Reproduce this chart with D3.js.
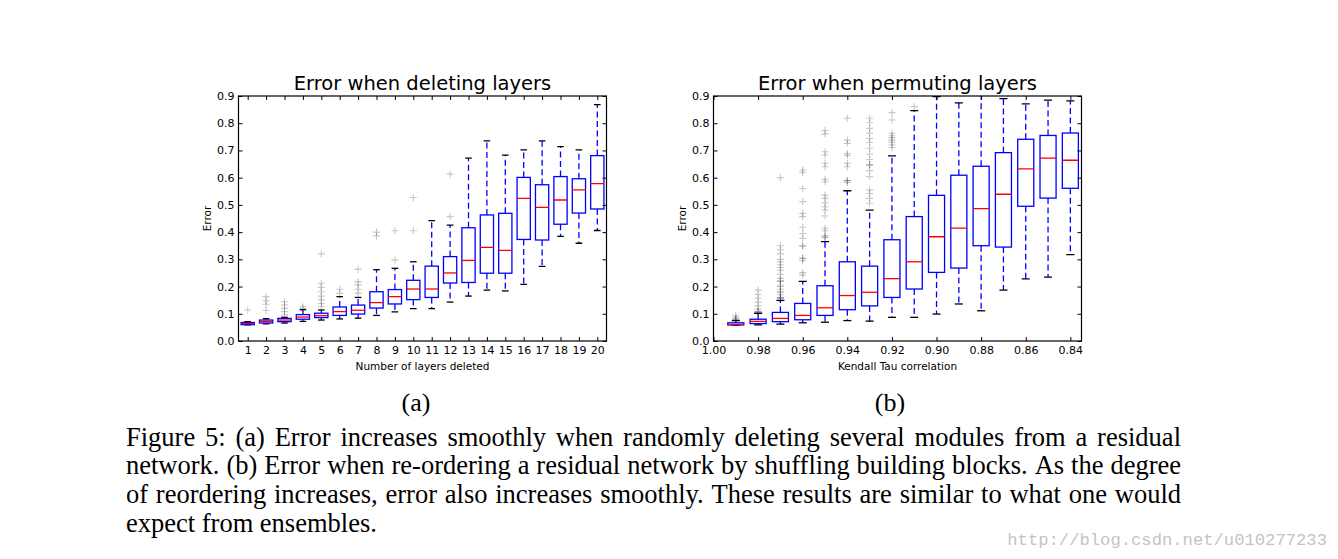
<!DOCTYPE html>
<html>
<head>
<meta charset="utf-8">
<script src="https://cdn.jsdelivr.net/npm/d3@7"></script>
<style>
html,body{margin:0;padding:0;background:#fff;}
svg{display:block;}
</style>
</head>
<body>
<svg id="fig" width="1338" height="559"></svg>
<script>
// ---------- DATA ----------
// (a) Error when deleting layers
const delCats = [1,2,3,4,5,6,7,8,9,10,11,12,13,14,15,16,17,18,19,20];
const delLo  = [0.059,0.063,0.066,0.072,0.077,0.081,0.084,0.094,0.107,0.119,0.119,0.143,0.165,0.187,0.184,0.208,0.274,0.384,0.359,0.406];
const delQ1  = [0.060,0.066,0.071,0.080,0.086,0.094,0.099,0.121,0.136,0.152,0.160,0.213,0.215,0.249,0.249,0.373,0.371,0.429,0.470,0.485];
const delMed = [0.064,0.071,0.077,0.088,0.093,0.108,0.113,0.141,0.163,0.191,0.191,0.250,0.296,0.344,0.333,0.524,0.491,0.518,0.555,0.578];
const delQ3  = [0.068,0.077,0.083,0.097,0.102,0.125,0.132,0.181,0.189,0.223,0.275,0.310,0.416,0.463,0.469,0.601,0.574,0.604,0.596,0.681];
const delHi  = [0.071,0.082,0.087,0.115,0.114,0.163,0.160,0.262,0.267,0.291,0.442,0.426,0.672,0.735,0.683,0.702,0.735,0.714,0.702,0.868];
const delFliers = [
  [0.114],
  [0.163,0.148,0.135,0.112],
  [0.144,0.132,0.120,0.108,0.096],
  [0.126,0.120],
  [0.320,0.212,0.197,0.181,0.165,0.151,0.138,0.126],
  [0.190,0.175],
  [0.263,0.218,0.206,0.190,0.175],
  [0.400,0.386],
  [0.405,0.298],
  [0.527,0.405],
  [],
  [0.613,0.457],
  [],[],[],[],[],[],[],[]
];
const delXTicks = [1,2,3,4,5,6,7,8,9,10,11,12,13,14,15,16,17,18,19,20];

// (b) Error when permuting layers
const permCats = [0.99,0.98,0.97,0.96,0.95,0.94,0.93,0.92,0.91,0.90,0.89,0.88,0.87,0.86,0.85,0.84];
const permLo  = [0.058,0.059,0.062,0.067,0.069,0.075,0.073,0.087,0.087,0.099,0.136,0.111,0.187,0.228,0.235,0.317];
const permQ1  = [0.059,0.064,0.071,0.078,0.094,0.115,0.129,0.160,0.191,0.252,0.268,0.350,0.345,0.495,0.525,0.561];
const permMed = [0.061,0.072,0.083,0.094,0.122,0.167,0.179,0.229,0.291,0.383,0.415,0.486,0.539,0.632,0.672,0.664];
const permQ3  = [0.067,0.080,0.105,0.138,0.203,0.291,0.275,0.372,0.457,0.535,0.609,0.642,0.692,0.741,0.755,0.764];
const permHi  = [0.075,0.102,0.149,0.219,0.365,0.552,0.481,0.680,0.846,0.898,0.875,0.905,0.890,0.871,0.885,0.882];
const permFliers = [
  [0.093,0.086,0.080,0.077,0.080],
  [0.187,0.171,0.157,0.142,0.129,0.116,0.108,0.108],
  [0.600,0.350,0.335,0.320,0.300,0.290,0.280,0.270,0.260,0.245,0.230,0.220,0.205,0.190,0.180,0.170,0.160,0.155,0.155,0.160,0.180,0.200,0.220],
  [0.628,0.620,0.560,0.512,0.469,0.457,0.418,0.395,0.377,0.349,0.349,0.304,0.304,0.295,0.251,0.242],
  [0.773,0.760,0.695,0.683,0.653,0.640,0.594,0.585,0.536,0.524,0.508,0.493,0.481,0.459,0.414,0.405,0.387,0.381,0.381],
  [0.818,0.738,0.726,0.689,0.682,0.653,0.640,0.589,0.582,0.589],
  [0.818,0.802,0.781,0.763,0.744,0.729,0.708,0.686,0.667,0.647,0.626,0.604,0.555,0.542,0.524,0.506,0.647],
  [0.839,0.812,0.763,0.754,0.747,0.738,0.730,0.720,0.711],
  [0.861],
  [],[],[],[],[],[],[]
];
const permXTicks = [1.00,0.98,0.96,0.94,0.92,0.90,0.88,0.86,0.84];

const yTicks = [0.0,0.1,0.2,0.3,0.4,0.5,0.6,0.7,0.8,0.9];

const titles = ["Error when deleting layers","Error when permuting layers"];
const xLabels = ["Number of layers deleted","Kendall Tau correlation"];
const yLabel = "Error";
const subLabels = ["(a)","(b)"];
const captionLines = [
  "Figure 5: (a) Error increases smoothly when randomly deleting several modules from a residual",
  "network. (b) Error when re-ordering a residual network by shuffling building blocks. As the degree",
  "of reordering increases, error also increases smoothly. These results are similar to what one would",
  "expect from ensembles."
];
const watermark = "http://blog.csdn.net/u010277233";

// ---------- DRAW ----------
const svg = d3.select("#fig");
svg.append("rect").attr("width",1338).attr("height",559).attr("fill","#fff");
const SANS = "DejaVu Sans";

function drawBoxChart(cfg){
  const {left, right, top, bottom, xDomain, cats, lo, q1, med, q3, hi, fliers,
         xTicks, xFmt, boxW, title, xLabel, idx} = cfg;
  const x = d3.scaleLinear().domain(xDomain).range([left, right]);
  const y = d3.scaleLinear().domain([0, 0.9]).range([bottom, top]);
  const g = svg.append("g");
  const clipId = "clip" + idx;
  svg.append("clipPath").attr("id", clipId).append("rect")
    .attr("x", left).attr("y", top).attr("width", right-left).attr("height", bottom-top);
  const plot = g.append("g").attr("clip-path", `url(#${clipId})`);

  const data = cats.map((c,i)=>({c, lo:lo[i], q1:q1[i], med:med[i], q3:q3[i], hi:hi[i], fl:fliers[i]}));
  const halfW = Math.abs(x(boxW) - x(0)) / 2;
  const capW = halfW / 2;

  // fliers
  data.forEach(d=>{
    d.fl.forEach(v=>{
      plot.append("path")
        .attr("d", `M${x(d.c)-3.5},${y(v)}H${x(d.c)+3.5}M${x(d.c)},${y(v)-3.5}V${y(v)+3.5}`)
        .attr("stroke","rgba(0,0,0,0.22)").attr("stroke-width",1.1).attr("fill","none");
    });
  });
  // whiskers (dashed blue)
  const wh = plot.append("g").attr("stroke","#0000ff").attr("stroke-width",1.3)
    .attr("stroke-dasharray","6,3.5").attr("fill","none");
  data.forEach(d=>{
    wh.append("line").attr("x1",x(d.c)).attr("x2",x(d.c)).attr("y1",y(d.q3)).attr("y2",y(d.hi));
    wh.append("line").attr("x1",x(d.c)).attr("x2",x(d.c)).attr("y1",y(d.q1)).attr("y2",y(d.lo));
  });
  // caps
  const caps = plot.append("g").attr("stroke","#000").attr("stroke-width",1.3);
  data.forEach(d=>{
    [d.lo, d.hi].forEach(v=>{
      caps.append("line").attr("x1",x(d.c)-capW).attr("x2",x(d.c)+capW).attr("y1",y(v)).attr("y2",y(v));
    });
  });
  // boxes
  plot.selectAll("rect.box").data(data).join("rect").attr("class","box")
    .attr("x", d=>x(d.c)-halfW).attr("width", halfW*2)
    .attr("y", d=>y(d.q3)).attr("height", d=>y(d.q1)-y(d.q3))
    .attr("fill","none").attr("stroke","#0000ff").attr("stroke-width",1.3);
  // medians
  plot.selectAll("line.med").data(data).join("line").attr("class","med")
    .attr("x1", d=>x(d.c)-halfW).attr("x2", d=>x(d.c)+halfW)
    .attr("y1", d=>y(d.med)).attr("y2", d=>y(d.med))
    .attr("stroke","#ff0000").attr("stroke-width",1.3);

  // axes with inward ticks
  const axB = d3.axisBottom(x).tickValues(xTicks).tickFormat(xFmt).tickSizeInner(-4).tickSizeOuter(0).tickPadding(5);
  const axT = d3.axisTop(x).tickValues(xTicks).tickFormat("").tickSizeInner(-4).tickSizeOuter(0);
  const axL = d3.axisLeft(y).tickValues(yTicks).tickFormat(d3.format(".1f")).tickSizeInner(-4).tickSizeOuter(0).tickPadding(4);
  const axR = d3.axisRight(y).tickValues(yTicks).tickFormat("").tickSizeInner(-4).tickSizeOuter(0);
  const styleAx = sel => {
    sel.selectAll(".domain").remove();
    sel.selectAll(".tick line").attr("stroke","#000").attr("stroke-width",1);
    sel.selectAll("text").attr("font-family",SANS).attr("font-size",11).attr("fill","#000");
  };
  g.append("g").attr("transform",`translate(0,${bottom})`).call(axB).call(styleAx);
  g.append("g").attr("transform",`translate(0,${top})`).call(axT).call(styleAx);
  g.append("g").attr("transform",`translate(${left},0)`).call(axL).call(styleAx);
  g.append("g").attr("transform",`translate(${right},0)`).call(axR).call(styleAx);

  // frame
  g.append("rect").attr("x",left).attr("y",top).attr("width",right-left).attr("height",bottom-top)
    .attr("fill","none").attr("stroke","#000").attr("stroke-width",1.2);

  // title & labels
  g.append("text").attr("x",(left+right)/2).attr("y",top-6).attr("text-anchor","middle")
    .attr("font-family",SANS).attr("font-size",19.5).text(title);
  g.append("text").attr("x",(left+right)/2).attr("y",bottom+29).attr("text-anchor","middle")
    .attr("font-family",SANS).attr("font-size",10.5).text(xLabel);
  g.append("text").attr("transform",`translate(${left-28},${(top+bottom)/2}) rotate(-90)`)
    .attr("text-anchor","middle").attr("font-family",SANS).attr("font-size",10.5).text(yLabel);
}

drawBoxChart({idx:0, left:238.5, right:606.5, top:96, bottom:341, xDomain:[0.5,20.5],
  cats:delCats, lo:delLo, q1:delQ1, med:delMed, q3:delQ3, hi:delHi, fliers:delFliers,
  xTicks:delXTicks, xFmt:d3.format("d"), boxW:0.72, title:titles[0], xLabel:xLabels[0]});

drawBoxChart({idx:1, left:713.5, right:1081.5, top:96, bottom:341, xDomain:[1.00,0.835],
  cats:permCats, lo:permLo, q1:permQ1, med:permMed, q3:permQ3, hi:permHi, fliers:permFliers,
  xTicks:permXTicks, xFmt:d3.format(".2f"), boxW:0.0072, title:titles[1], xLabel:xLabels[1]});

// sub-figure labels
const SERIF = "Liberation Serif";
[[416,subLabels[0]],[890,subLabels[1]]].forEach(([cx,t])=>{
  svg.append("text").attr("x",cx).attr("y",411).attr("text-anchor","middle")
    .attr("font-family",SERIF).attr("font-size",26).text(t);
});

// caption, justified
const capLeft = 126, capRight = 1181, capY0 = 445.5, capLH = 28.7;
captionLines.forEach((line,i)=>{
  const words = line.split(" ");
  const yy = capY0 + i*capLH;
  const t = svg.append("text").attr("y",yy).attr("font-family",SERIF).attr("font-size",26.5).attr("fill","#000");
  const spans = words.map(w=>t.append("tspan").text(w));
  const widths = spans.map(s=>s.node().getComputedTextLength());
  const total = d3.sum(widths);
  const justify = i < captionLines.length-1;
  const spaceW = justify ? (capRight-capLeft-total)/(words.length-1) : 6.6;
  let cx = capLeft;
  spans.forEach((s,k)=>{ s.attr("x",cx); cx += widths[k] + spaceW; });
});

// watermark
svg.append("text").attr("x",1327).attr("y",545).attr("text-anchor","end")
  .attr("font-family","Liberation Mono").attr("font-size",17.2).attr("fill","#c4c4c4").text(watermark);
</script>
</body>
</html>
